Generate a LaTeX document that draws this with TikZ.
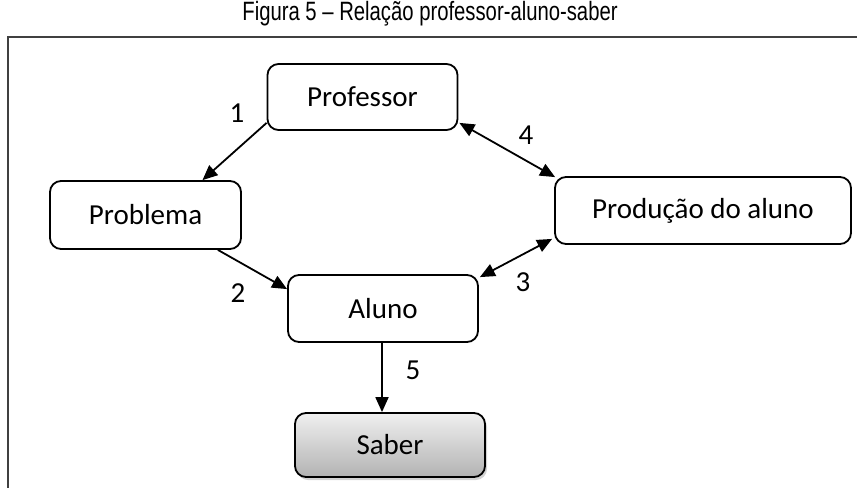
\documentclass[tikz,border=0pt]{standalone}
\usepackage{fontspec}
\setmainfont{Carlito}
\newfontfamily\titlefont{Liberation Sans}
\usetikzlibrary{arrows.meta,calc,shadows}
\begin{document}
\begin{tikzpicture}[x=1pt,y=-1pt,
  box/.style={draw=black,line width=1.8pt,rounded corners=11pt,inner sep=0pt,
    font=\fontsize{29}{33}\selectfont,fill=white},
  lbl/.style={font=\fontsize{29}{33}\selectfont,inner sep=0pt},
  conn/.style={line width=1.8pt,-{Triangle[length=15pt,width=13pt]}},
  dconn/.style={line width=1.8pt,{Triangle[length=15pt,width=13pt]}-{Triangle[length=15pt,width=13pt]}}]
\useasboundingbox (0,0) rectangle (857,488);
% title
\node[font=\titlefont\fontsize{26.5}{28}\selectfont,inner sep=0pt] (title) at (430,14) {\scalebox{0.765}[1]{Figura 5 – Relação professor-aluno-saber}};
% frame
\coordinate (ftl) at (8,37);
\coordinate (ftr) at (857,37);
\coordinate (fbl) at (8,488);
\draw[line width=2pt,black!75] (ftr) -- (ftl) -- (fbl);
% nodes
\node[box,minimum width=190pt,minimum height=66pt] (prof) at (362.5,97) {Professor};
\node[box,minimum width=191pt,minimum height=68pt] (prob) at (145.5,215) {Problema};
\node[box,minimum width=296pt,minimum height=67pt] (prod) at (703,210.5) {Produção do aluno};
\node[box,minimum width=190pt,minimum height=67pt] (aluno) at (383,308.5) {Aluno};
\node[box,minimum width=190pt,minimum height=64pt,top color=black!6,bottom color=black!30,
  drop shadow={opacity=0.35,shadow xshift=2pt,shadow yshift=-3pt}] (saber) at (390,445) {Saber};
% connectors
\draw[conn] ($(prof.south west)+(0,-8)$) -- ($(prob.north)+(57,0)$);
\draw[conn] ($(prob.south east)+(-24,0)$) -- ($(aluno.north west)+(0,15)$);
\draw[dconn] ($(aluno.north east)+(1,3)$) -- ($(prod.south west)+(-2,-6)$);
\draw[dconn] ($(prof.south east)+(1,-8)$) -- ($(prod.north west)+(1,1)$);
\coordinate (a5) at ($(aluno.south)+(-1,0)$);
\draw[conn] (a5) -- (a5 |- saber.north);
% labels
\node[lbl] (l1) at (237,113) {1};
\node[lbl] (l2) at (238,293) {2};
\node[lbl] (l3) at (523,282) {3};
\node[lbl] (l4) at (526,135) {4};
\node[lbl] (l5) at (413,370) {5};
\end{tikzpicture}
\end{document}
